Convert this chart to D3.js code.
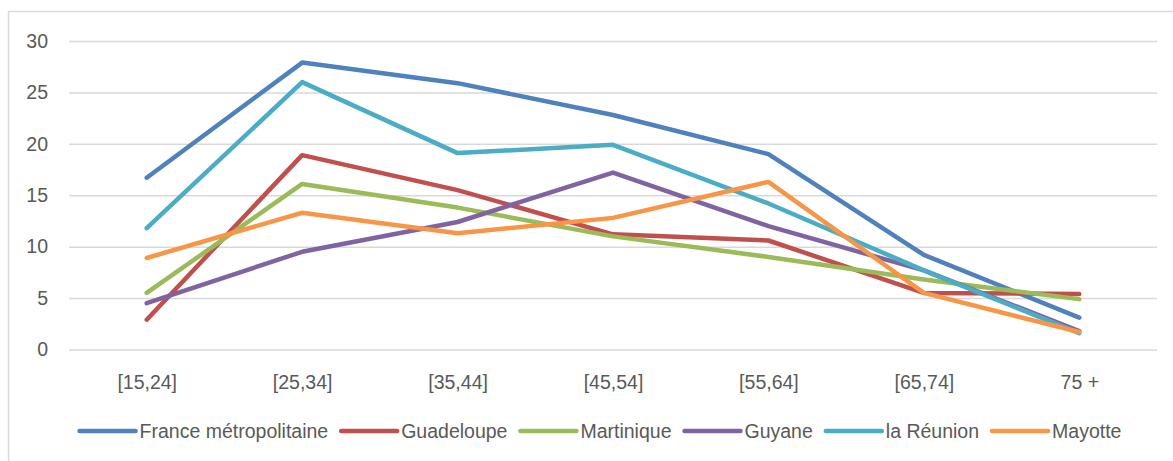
<!DOCTYPE html>
<html>
<head>
<meta charset="utf-8">
<script src="https://cdn.jsdelivr.net/npm/d3@7"></script>
<style>
  html, body { margin: 0; padding: 0; background: #fff; }
  svg { display: block; font-family: "Liberation Sans", Arial, sans-serif; }
</style>
</head>
<body>
<svg id="chart" width="1173" height="461"></svg>
<script>
// age groups on the x axis
const categories = ['[15,24]', '[25,34]', '[35,44]', '[45,54]', '[55,64]', '[65,74]', '75 +'];
const yTicks = [0, 5, 10, 15, 20, 25, 30];

const seriesNames = ['France métropolitaine', 'Guadeloupe', 'Martinique', 'Guyane', 'la Réunion', 'Mayotte'];
const franceMetro = [16.7, 27.9, 25.9, 22.8, 19.0, 9.2, 3.1];
const guadeloupe = [2.9, 18.9, 15.5, 11.2, 10.6, 5.5, 5.4];
const martinique = [5.5, 16.1, 13.8, 11.0, 9.0, 6.8, 4.9];
const guyane = [4.5, 9.5, 12.4, 17.2, 12.0, 7.7, 1.8];
const reunion = [11.8, 26.0, 19.1, 19.9, 14.2, 7.7, 1.6];
const mayotte = [8.9, 13.3, 11.3, 12.8, 16.3, 5.5, 1.7];
const seriesColors = ['#4f81bd', '#c0504d', '#9bbb59', '#8064a2', '#4bacc6', '#f79646'];

const series = [franceMetro, guadeloupe, martinique, guyane, reunion, mayotte].map((values, i) => ({
  name: seriesNames[i],
  color: seriesColors[i],
  values: values,
}));

const width = 1173;
const height = 461;
const margin = { top: 41, right: 16, bottom: 111.5, left: 69 };
const textColor = '#595959';
const gridColor = '#d9d9d9';

const svg = d3.select('#chart');

// outer chart frame (right and bottom edges fall outside the picture)
svg.append('rect')
  .attr('x', 8.5)
  .attr('y', 11.5)
  .attr('width', 1180)
  .attr('height', 480)
  .attr('fill', 'none')
  .attr('stroke', gridColor)
  .attr('stroke-width', 1.5);

const x = d3.scalePoint()
  .domain(categories)
  .range([margin.left, width - margin.right])
  .padding(0.5);

const y = d3.scaleLinear()
  .domain([0, 30])
  .range([height - margin.bottom, margin.top]);

// horizontal grid
const yAxis = d3.axisLeft(y)
  .tickValues(yTicks)
  .tickSize(-(width - margin.right - margin.left))
  .tickPadding(21);

const yg = svg.append('g')
  .attr('transform', `translate(${margin.left},0)`)
  .call(yAxis);
yg.select('.domain').remove();
yg.selectAll('.tick line')
  .attr('stroke', gridColor)
  .attr('stroke-width', 1.5);
yg.selectAll('.tick text')
  .attr('fill', textColor)
  .style('font-size', '19.5px');

const xAxis = d3.axisBottom(x).tickSize(0).tickPadding(26);
const xg = svg.append('g')
  .attr('transform', `translate(0,${y(0)})`)
  .call(xAxis);
xg.select('.domain').remove();
xg.selectAll('.tick text')
  .attr('fill', textColor)
  .style('font-size', '19.5px');

const line = d3.line()
  .x((d, i) => x(categories[i]))
  .y((d) => y(d));

svg.append('g')
  .selectAll('path')
  .data(series)
  .enter()
  .append('path')
  .attr('d', (d) => line(d.values))
  .attr('fill', 'none')
  .attr('stroke', (d) => d.color)
  .attr('stroke-width', 4.5)
  .attr('stroke-linecap', 'round')
  .attr('stroke-linejoin', 'round');

// legend, laid out from measured text widths and centred
const legend = svg.append('g').attr('class', 'legend');
const sampleLen = 56;
const sampleGap = 4;
const itemGap = 13;
const legendY = 431;
let cursor = 0;
const items = [];
series.forEach((s) => {
  const g = legend.append('g');
  g.append('line')
    .attr('x1', cursor)
    .attr('x2', cursor + sampleLen)
    .attr('y1', legendY)
    .attr('y2', legendY)
    .attr('stroke', s.color)
    .attr('stroke-width', 4.5)
    .attr('stroke-linecap', 'round');
  const t = g.append('text')
    .attr('x', cursor + sampleLen + sampleGap)
    .attr('y', legendY)
    .attr('dy', '0.35em')
    .attr('fill', textColor)
    .style('font-size', '19.5px')
    .text(s.name);
  const w = t.node().getComputedTextLength();
  cursor += sampleLen + sampleGap + w + itemGap;
  items.push(g);
});
const legendWidth = cursor - itemGap;
legend.attr('transform', `translate(${(81 + 1120) / 2 - legendWidth / 2},0)`);
</script>
</body>
</html>
